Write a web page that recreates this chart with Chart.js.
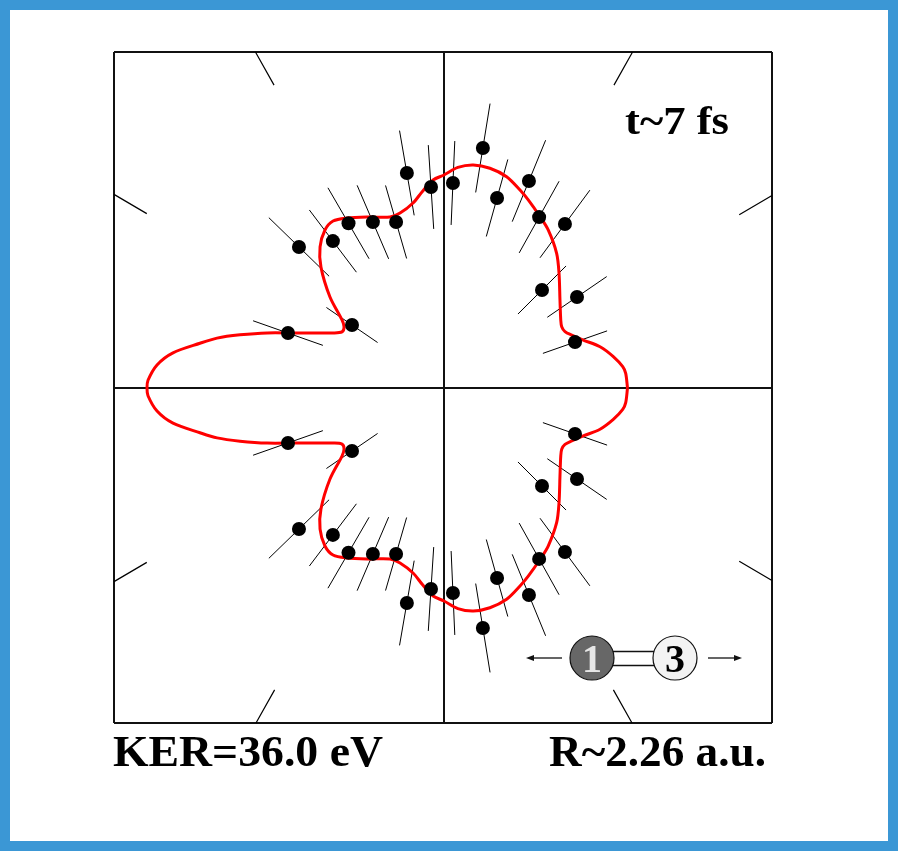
<!DOCTYPE html>
<html>
<head>
<meta charset="utf-8">
<script src="https://cdn.jsdelivr.net/npm/chart.js@4.4.1/dist/chart.umd.min.js"></script>
<style>
html,body{margin:0;padding:0;background:#fff;}
#wrap{position:absolute;left:0;top:0;width:878px;height:831px;border:10px solid #3b97d5;background:#fff;}
canvas{display:block;}
</style>
</head>
<body>
<div id="wrap"><canvas id="c" width="878" height="831" style="width:878px;height:831px"></canvas></div>
<script>
// ---- measured data (angle in degrees, radius in plot units) ----
const pointAngles = [19.3, 34.4, 45.0, 53.6, 60.9, 67.7, 74.4, 80.8, 87.5, 93.7, 99.8, 106.1, 113.2, 120.1, 127.1, 135.8, 145.6, 160.6,
                     -19.3, -34.4, -45.0, -53.6, -60.9, -67.7, -74.4, -80.8, -87.5, -93.7, -99.8, -106.1, -113.2, -120.1, -127.1, -135.8, -145.6, -160.6];
const pointRadii  = [138.8, 161.2, 138.6, 203.8, 195.6, 223.8, 197.3, 243.1, 205.2, 201.4, 218.2, 172.8, 180.5, 190.4, 184.2, 202.3, 111.5, 165.4,
                     138.8, 161.2, 138.6, 203.8, 195.6, 223.8, 197.3, 243.1, 205.2, 201.4, 218.2, 172.8, 180.5, 190.4, 184.2, 202.3, 111.5, 165.4];
const pointErrors = [34, 36, 34, 42, 41, 44, 40, 45, 42, 42, 43, 38, 40, 41, 39, 42, 31, 37,
                     34, 36, 34, 42, 41, 44, 40, 45, 42, 42, 43, 38, 40, 41, 39, 42, 31, 37];

const curveAngles = [0, 4.6, 6.8, 10.5, 14.8, 19, 22.5, 25, 27.5, 30.2, 37.2, 44.9, 50.1, 56.6, 60.7, 65.8, 69, 73.5, 78.2, 82.5,
                     86.4, 90, 93, 96.2, 99.5, 104.1, 107.5, 114.2, 119.7, 123.6, 127, 131.3, 135.5, 141.4, 146.3, 148.6, 151.2, 153.6,
                     159.1, 162.7, 165.4, 167.6, 169.6, 172.6, 175.4, 178.5, 180,
                     181.5, 184.6, 187.4, 190.4, 192.4, 194.6, 197.3, 200.9, 206.4, 208.8, 211.4, 213.7, 218.6, 224.5, 228.7, 233, 236.4,
                     240.3, 245.8, 252.5, 255.9, 260.5, 263.8, 267, 270, 273.6, 277.5, 281.8, 286.5, 291, 294.2, 299.3, 303.4, 309.9, 315.1,
                     322.8, 329.8, 332.5, 335, 337.5, 341, 345.2, 349.5, 353.2, 355.4, 360];
const curveRadii  = [183.5, 182.3, 180, 172.2, 161.4, 147.3, 138.3, 133.5, 132.7, 135.1, 145.6, 162.4, 175.6, 189.3, 196.4, 206, 212.1, 220.4, 224.5, 224.9,
                     221, 213, 208.3, 198, 187.6, 180.4, 179.3, 187.5, 195.7, 200.5, 197.8, 187.8, 172.5, 145.9, 122.6, 117.1, 116.4, 123.9,
                     154.1, 185.3, 210.8, 232.4, 248.1, 273.3, 287.9, 296.1, 297,
                     296.1, 287.9, 273.3, 248.1, 232.4, 210.8, 185.3, 154.1, 123.9, 116.4, 117.1, 122.6, 145.9, 172.5, 187.8, 197.8, 200.5,
                     195.7, 187.5, 179.3, 180.4, 187.6, 198, 208.3, 213, 221, 224.9, 224.5, 220.4, 212.1, 206, 196.4, 189.3, 175.6, 162.4,
                     145.6, 135.1, 132.7, 133.5, 138.3, 147.3, 161.4, 172.2, 180, 182.3, 183.5];

const frameTickAngles = [30.4, 60.7, 119.3, 149.6, 210.4, 240.7, 299.3, 329.6];
const frameTickLength = 38;

const xRange = [-330, 328];
const yRange = [-335, 336];

const labelTime = 't~7 fs';
const labelKER  = 'KER=36.0 eV';
const labelR    = 'R~2.26 a.u.';
const atomLeft  = '1';
const atomRight = '3';

// ---- build library data ----
const rad = d => d * Math.PI / 180;
const pol = (a, r) => ({ x: r * Math.cos(rad(a)), y: r * Math.sin(rad(a)) });

const pointData = pointAngles.map((a, i) => pol(a, pointRadii[i]));
const errData = [];
pointAngles.forEach((a, i) => {
  errData.push(pol(a, pointRadii[i] - pointErrors[i]));
  errData.push(pol(a, pointRadii[i] + pointErrors[i]));
  errData.push({ x: null, y: null });
});
const curveData = curveAngles.map((a, i) => pol(a, curveRadii[i]));
const tickData = [];
frameTickAngles.forEach(a => {
  const c = Math.cos(rad(a)), s = Math.sin(rad(a));
  const rx = c > 0 ? xRange[1] / c : (c < 0 ? xRange[0] / c : Infinity);
  const ry = s > 0 ? yRange[1] / s : (s < 0 ? yRange[0] / s : Infinity);
  const rEdge = Math.min(rx, ry);
  tickData.push(pol(a, rEdge));
  tickData.push(pol(a, rEdge - frameTickLength));
  tickData.push({ x: null, y: null });
});

function fitText(ctx, txt, x, y, w, px, align, color) {
  ctx.save();
  ctx.font = 'bold ' + px + 'px "Liberation Serif", "Times New Roman", serif';
  ctx.fillStyle = color || '#000';
  ctx.textAlign = 'left';
  ctx.textBaseline = 'alphabetic';
  const m = ctx.measureText(txt).width;
  ctx.translate(x, y);
  ctx.scale(w / m, 1);
  ctx.fillText(txt, align === 'right' ? -m : 0, 0);
  ctx.restore();
}

const decorPlugin = {
  id: 'decor',
  afterDraw(chart) {
    const ctx = chart.ctx;
    const o = -10; // page -> canvas offset
    fitText(ctx, labelTime, 625 + o, 134 + o, 104, 40, 'left');
    fitText(ctx, labelKER, 113 + o, 766 + o, 270, 44, 'left');
    fitText(ctx, labelR, 766 + o, 766 + o, 217, 44, 'right');

    // molecule icon
    ctx.save();
    ctx.strokeStyle = '#111';
    ctx.fillStyle = '#111';
    ctx.lineWidth = 1.3;
    const yM = 658 + o;
    // arrows
    ctx.beginPath(); ctx.moveTo(562 + o, yM); ctx.lineTo(530 + o, yM); ctx.stroke();
    ctx.beginPath(); ctx.moveTo(526 + o, yM); ctx.lineTo(534 + o, yM - 3); ctx.lineTo(534 + o, yM + 3); ctx.closePath(); ctx.fill();
    ctx.beginPath(); ctx.moveTo(708 + o, yM); ctx.lineTo(738 + o, yM); ctx.stroke();
    ctx.beginPath(); ctx.moveTo(742 + o, yM); ctx.lineTo(734 + o, yM - 3); ctx.lineTo(734 + o, yM + 3); ctx.closePath(); ctx.fill();
    // bond
    ctx.fillStyle = '#fff';
    ctx.lineWidth = 1.6;
    ctx.fillRect(610 + o, 651 + o, 46, 15);
    ctx.beginPath(); ctx.moveTo(610 + o, 651.5 + o); ctx.lineTo(656 + o, 651.5 + o); ctx.stroke();
    ctx.beginPath(); ctx.moveTo(610 + o, 665.5 + o); ctx.lineTo(656 + o, 665.5 + o); ctx.stroke();
    // atoms
    ctx.lineWidth = 1.2;
    ctx.beginPath(); ctx.arc(592 + o, yM, 22, 0, Math.PI * 2); ctx.fillStyle = '#676767'; ctx.fill(); ctx.stroke();
    ctx.beginPath(); ctx.arc(675 + o, yM, 22, 0, Math.PI * 2); ctx.fillStyle = '#f3f3f3'; ctx.fill(); ctx.stroke();
    ctx.restore();
    ctx.save();
    ctx.font = 'bold 40px "Liberation Serif", "Times New Roman", serif';
    ctx.textAlign = 'center';
    ctx.textBaseline = 'alphabetic';
    ctx.fillStyle = '#e6e6e6';
    ctx.fillText(atomLeft, 592 + o, 672 + o);
    ctx.fillStyle = '#000';
    ctx.fillText(atomRight, 675 + o, 672 + o);
    ctx.restore();
  }
};

new Chart(document.getElementById('c'), {
  type: 'scatter',
  data: {
    datasets: [
      { label: 'data', data: pointData, showLine: false, pointRadius: 7, pointBackgroundColor: '#000', pointBorderWidth: 0, pointBorderColor: '#000' },
      { label: 'fit', data: curveData, showLine: true, borderColor: '#ff0000', borderWidth: 3, pointRadius: 0, tension: 0.3, fill: false },
      { label: 'errors', data: errData, showLine: true, spanGaps: false, borderColor: '#000', borderWidth: 1, pointRadius: 0, tension: 0 },
      { label: 'frameTicks', data: tickData, showLine: true, spanGaps: false, borderColor: '#000', borderWidth: 1.2, pointRadius: 0, tension: 0, clip: false }
    ]
  },
  options: {
    responsive: false,
    animation: false,
    events: [],
    devicePixelRatio: 1,
    layout: { padding: { left: 104, top: 42, right: 116, bottom: 118 } },
    plugins: { legend: { display: false }, tooltip: { enabled: false }, title: { display: false } },
    scales: {
      x: {
        type: 'linear', min: xRange[0], max: xRange[1],
        afterBuildTicks: s => { s.ticks = [{ value: xRange[0] }, { value: 0 }, { value: xRange[1] }]; },
        ticks: { display: false },
        grid: { color: '#111', lineWidth: 2, drawTicks: false },
        border: { display: false }
      },
      y: {
        type: 'linear', min: yRange[0], max: yRange[1],
        afterBuildTicks: s => { s.ticks = [{ value: yRange[0] }, { value: 0 }, { value: yRange[1] }]; },
        ticks: { display: false },
        grid: { color: '#111', lineWidth: 2, drawTicks: false },
        border: { display: false }
      }
    }
  },
  plugins: [decorPlugin]
});
</script>
</body>
</html>
